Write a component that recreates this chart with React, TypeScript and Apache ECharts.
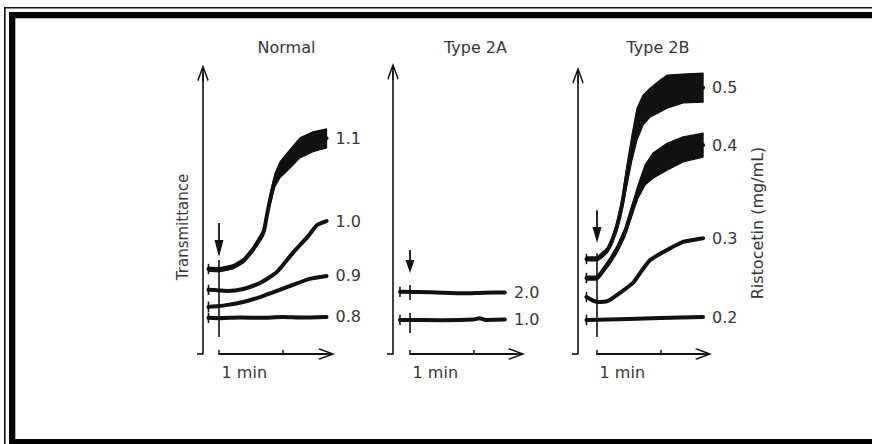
import React, { useEffect, useRef } from 'react';
import * as echarts from 'echarts';

// ---------------- data (time in s, transmittance in arbitrary units) ----------------
const panelTitles = ['Normal', 'Type 2A', 'Type 2B'];
const timeScaleLabel = '1 min';
const timeScaleTicks = [0, 60];
const timeScaleLabelAt = [24];
const yAxisTitle = 'Transmittance';
const doseAxisTitle = 'Ristocetin (mg/mL)';

// Normal
const normalLabels = ['0.8', '0.9', '1.0', '1.1'];
const normal08 = [[-10, 12.5], [0, 12.4], [20, 12.6], [40, 12.5], [60, 12.8], [80, 12.6], [102, 12.8]];
const normal09 = [[-10, 16.3], [0, 16.6], [8, 17.0], [23, 18.0], [39, 19.7], [55, 21.8], [70, 23.9], [86, 26.0], [102, 27.0]];
const normal10 = [[-10, 22.2], [0, 22.0], [8, 21.8], [23, 22.5], [39, 24.6], [55, 28.4], [70, 35.0], [84, 40.5], [93, 44.6], [102, 46.0]];
const normal11 = [[-10, 29.4], [0, 29.1], [13, 30.1], [23, 32.2], [32, 36.0], [42, 41.9], [45.5, 48.1], [48.4, 53.3], [53.1, 60.2], [57.8, 63.7], [64.5, 66.4], [76.8, 71.3], [89.1, 73.4], [102, 74.6]];
const normal11Spread = [1.4, 1.4, 1.4, 1.4, 1.7, 2.1, 2.8, 3.5, 4.5, 5.5, 6.2, 6.9, 6.9, 6.6];
const normalMarker = [[0, 5.9], [0, 32.5]];
const normalArrow = [[0, 45.3], [0, 36.5]];

// Type 2A
const type2ALabels = ['1.0', '2.0'];
const type2A10 = [[-9.5, 11.8], [30, 11.7], [60, 11.9], [66, 12.4], [72, 11.8], [90, 11.9]];
const type2A20 = [[-9.5, 21.5], [20, 21.4], [50, 21.0], [70, 21.2], [90, 21.3]];
const type2AMarkers = [[[0, 18.7], [0, 23.9]], [[0, 7.3], [0, 14.2]]];
const type2AArrow = [[0, 36.0], [0, 30.3]];

// Type 2B
const type2BLabels = ['0.2', '0.3', '0.4', '0.5'];
const type2B02 = [[-10, 11.8], [30, 12.1], [60, 12.5], [100.6, 12.8]];
const type2B03 = [[-10, 19.7], [0, 18.0], [10, 18.3], [19, 20.4], [34.1, 24.6], [42, 28.6], [50.3, 32.5], [66.4, 36.0], [81.6, 38.8], [100.6, 40.1]];
const type2B04 = [[-10, 26.3], [0, 26.3], [5.7, 28.9], [12.3, 32.2], [19, 36.2], [26.6, 42.2], [33.2, 49.8], [38.9, 56.2], [45.5, 61.9], [53.1, 65.2], [66.4, 68.3], [81.6, 70.8], [100.6, 72.3]];
const type2B04Spread = [1.4, 1.4, 1.7, 2.1, 2.4, 2.8, 3.5, 4.5, 6.9, 8.7, 9.3, 8.7, 8.3];
const type2B05 = [[-10, 32.9], [0, 32.9], [9.5, 35.8], [14.2, 39.1], [19, 44.3], [23.7, 51.6], [28.4, 61.9], [33.2, 71.5], [37.9, 79.6], [43.6, 84.4], [50.3, 87.0], [59.7, 89.3], [66.4, 90.8], [81.6, 91.9], [100.6, 92.2]];
const type2B05Spread = [1.4, 1.4, 1.7, 2.1, 2.8, 3.5, 6.9, 8.7, 11, 10.4, 10, 11, 11.4, 10, 10];
const type2BMarker = [[0, 5.9], [0, 34.9]];
const type2BArrow = [[0, 49.8], [0, 41.2]];

// ---------------- styling / layout ----------------
const INK = '#111111';
const TEXT = '#363636';
const FONT = 'DejaVu Sans';
const CHEVRON = 'path://M10 0 L20 27 L18.3 30 L11.3 11 L11.3 30 L8.7 30 L8.7 11 L1.7 30 L0 27 Z';

const PX_PER_S = 1.0545;
const T_MIN = -10.5;
const T_MAX = 102.5;
const zeroX = [219, 410, 597]; // pixel of t = 0 in each panel
const dataTop = [73, 71.5, 75.5];
const bottomY = 354;
const yMax = [97.2, 97.75, 96.4];
const yAxisX = [203, 393, 578];
const scaleMax = [101.9, 101, 101];

const dataGrids = zeroX.map((x0, i) => ({
  left: x0 + T_MIN * PX_PER_S,
  top: dataTop[i],
  width: (T_MAX - T_MIN) * PX_PER_S,
  height: bottomY - dataTop[i],
}));
const scaleGrids = zeroX.map((x0, i) => ({
  left: x0,
  top: bottomY - 1,
  width: scaleMax[i] * PX_PER_S,
  height: 1,
}));

function traceSeries(id: string, label: string, data: number[][], idx: number) {
  return {
    type: 'line', id, name: label, data, xAxisIndex: idx, yAxisIndex: idx,
    symbol: 'none', showSymbol: false, clip: false, silent: true, z: 4,
    smooth: 0.2,
    lineStyle: { color: INK, width: 4, cap: 'round', join: 'round' },
    endLabel: { show: true, formatter: label, distance: 9, color: TEXT, fontSize: 16, fontFamily: FONT },
  };
}

function bandSeries(id: string, data: number[][], spread: number[], idx: number) {
  const upper = data.map((p, i) => [p[0], p[1] + spread[i] / 2]);
  const lower = data.map((p, i) => [p[0], p[1] - spread[i] / 2]).reverse();
  return {
    type: 'custom', id, coordinateSystem: 'cartesian2d', xAxisIndex: idx, yAxisIndex: idx,
    clip: false, silent: true, z: 3,
    data: [data[0]],
    renderItem: (_params: any, api: any) => ({
      type: 'polygon',
      shape: { points: [...upper.map((p) => api.coord(p)), ...lower.map((p) => api.coord(p))] },
      style: { fill: INK, stroke: INK, lineWidth: 1.2, lineJoin: 'round' },
    }),
  };
}

function segmentSeries(id: string, segs: number[][][], idx: number, width: number) {
  return {
    type: 'custom', id, coordinateSystem: 'cartesian2d', xAxisIndex: idx, yAxisIndex: idx,
    clip: false, silent: true, z: 5,
    encode: { x: [0, 2], y: [1, 3] },
    data: segs.map((s) => [s[0][0], s[0][1], s[1][0], s[1][1]]),
    renderItem: (_params: any, api: any) => {
      const a = api.coord([api.value(0), api.value(1)]);
      const b = api.coord([api.value(2), api.value(3)]);
      return {
        type: 'line',
        shape: { x1: a[0], y1: a[1], x2: b[0], y2: b[1] },
        style: { stroke: INK, lineWidth: width },
      };
    },
  };
}

function arrowSeries(id: string, pts: number[][], idx: number, head: number[]) {
  return {
    type: 'line', id, xAxisIndex: idx, yAxisIndex: idx, clip: false, silent: true, z: 6,
    showSymbol: true, showAllSymbol: true,
    lineStyle: { color: INK, width: 1.8 },
    itemStyle: { color: INK, borderWidth: 0 },
    data: [
      { value: pts[0], symbol: 'none' },
      { value: pts[1], symbol: 'triangle', symbolSize: head, symbolRotate: 180 },
    ],
  };
}

function startTicks(traces: number[][][]) {
  return traces.map((t) => [[t[0][0], t[0][1] - 1.8], [t[0][0], t[0][1] + 1.8]]);
}

export default function App() {
  const ref = useRef<HTMLDivElement>(null);

  useEffect(() => {
    if (!ref.current) return;
    const chart = echarts.init(ref.current, undefined, { renderer: 'svg' });

    const dataX = dataGrids.map((_, i) => ({
      type: 'value', gridIndex: i, min: T_MIN, max: T_MAX, show: false,
    }));
    const dataY = dataGrids.map((g, i) => ({
      type: 'value', gridIndex: i, min: 0, max: yMax[i], offset: g.left - yAxisX[i],
      axisLine: { show: true, onZero: false, lineStyle: { color: INK, width: 1.6 }, symbol: ['none', CHEVRON], symbolSize: [12, 17] },
      axisTick: { show: true, inside: false, length: 6, customValues: [0], lineStyle: { color: INK, width: 1.6 } },
      axisLabel: { show: false },
      splitLine: { show: false },
    }));
    const scaleX = scaleGrids.map((_, i) => ({
      type: 'value', gridIndex: 3 + i, min: 0, max: scaleMax[i],
      axisLine: { show: true, onZero: false, lineStyle: { color: INK, width: 2 }, symbol: ['none', CHEVRON], symbolSize: [12, 17] },
      axisTick: { show: true, inside: true, length: 4, customValues: timeScaleTicks, lineStyle: { color: INK, width: 1.5 } },
      axisLabel: { show: true, customValues: timeScaleLabelAt, formatter: () => timeScaleLabel, margin: 10, color: TEXT, fontSize: 16, fontFamily: FONT },
      splitLine: { show: false },
    }));
    const scaleY = scaleGrids.map((_, i) => ({ type: 'value', gridIndex: 3 + i, min: 0, max: 1, show: false }));

    const normalTraces = [normal08, normal09, normal10, normal11];
    const t2ATraces = [type2A10, type2A20];
    const t2BTraces = [type2B02, type2B03, type2B04, type2B05];

    const series: any[] = [
      bandSeries('n11band', normal11, normal11Spread, 0),
      ...normalTraces.map((d, k) => traceSeries('n' + k, normalLabels[k], d, 0)),
      segmentSeries('nmark', [normalMarker, ...startTicks(normalTraces)], 0, 1.6),
      arrowSeries('narrow', normalArrow, 0, [9, 17]),

      ...t2ATraces.map((d, k) => traceSeries('a' + k, type2ALabels[k], d, 1)),
      segmentSeries('amark', [...type2AMarkers, ...startTicks(t2ATraces)], 1, 1.6),
      arrowSeries('aarrow', type2AArrow, 1, [9, 13]),

      bandSeries('b04band', type2B04, type2B04Spread, 2),
      bandSeries('b05band', type2B05, type2B05Spread, 2),
      ...t2BTraces.map((d, k) => traceSeries('b' + k, type2BLabels[k], d, 2)),
      segmentSeries('bmark', [type2BMarker, ...startTicks(t2BTraces)], 2, 1.6),
      arrowSeries('barrow', type2BArrow, 2, [9, 16]),
    ];

    const titleX = [286.5, 475.5, 658];
    const textStyle = (text: string) => ({
      text, fill: TEXT, fontSize: 16, fontFamily: FONT,
      align: 'center', verticalAlign: 'middle', textAlign: 'center', textVerticalAlign: 'middle',
    });

    const graphic: any[] = [
      { type: 'rect', shape: { x: 4, y: 7, width: 868, height: 1.6 }, style: { fill: INK } },
      { type: 'rect', shape: { x: 4, y: 7, width: 1.6, height: 437 }, style: { fill: INK } },
      { type: 'rect', shape: { x: 9, y: 12, width: 863, height: 6.3 }, style: { fill: '#000' } },
      { type: 'rect', shape: { x: 9, y: 12, width: 6.3, height: 432 }, style: { fill: '#000' } },
      { type: 'rect', shape: { x: 9, y: 439, width: 863, height: 5 }, style: { fill: '#000' } },
      ...panelTitles.map((t, i) => ({ type: 'text', x: titleX[i], y: 47, style: textStyle(t) })),
      { type: 'text', x: 183, y: 227, rotation: Math.PI / 2, style: { ...textStyle(yAxisTitle), fontSize: 15 } },
      { type: 'text', x: 757, y: 223, rotation: Math.PI / 2, style: textStyle(doseAxisTitle) },
    ];

    chart.setOption({
      animation: false,
      backgroundColor: '#ffffff',
      grid: [...dataGrids, ...scaleGrids].map((g) => ({ ...g, containLabel: false, outerBoundsMode: 'none' })),
      xAxis: [...dataX, ...scaleX],
      yAxis: [...dataY, ...scaleY],
      series,
      graphic,
    });

    return () => chart.dispose();
  }, []);

  return (
    <div
      ref={ref}
      style={{ position: 'absolute', left: 0, top: 0, width: 872, height: 444, background: '#fff' }}
    />
  );
}
